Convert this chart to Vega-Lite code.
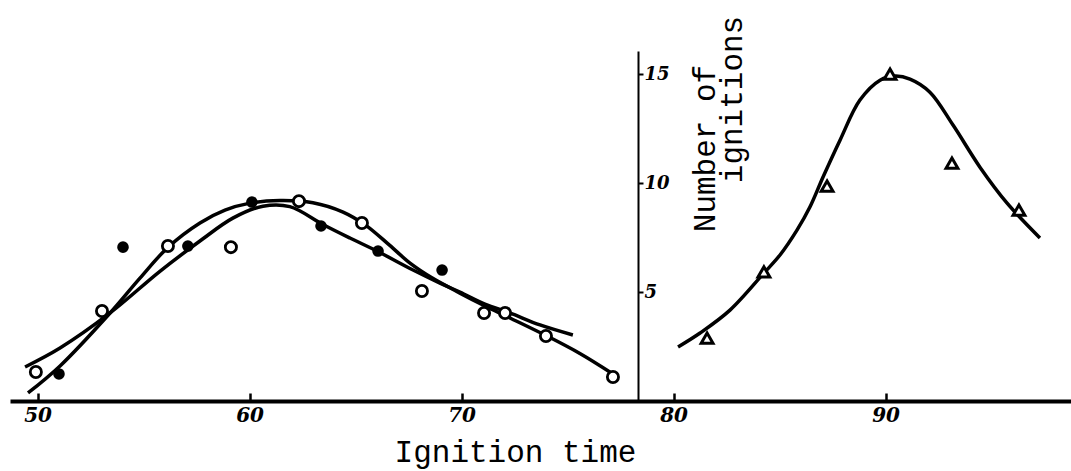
{
  "$schema": "https://vega.github.io/schema/vega-lite/v6.json",
  "width": 1061,
  "height": 350,
  "autosize": {"type": "none"},
  "padding": {"left": 10, "top": 51, "right": 0, "bottom": 70},
  "background": "white",
  "config": {"view": {"stroke": null}},
  "datasets": {
    "pts": [
      {"series": "open", "time": 49.92, "count": 1.33},
      {"series": "open", "time": 53.04, "count": 4.13},
      {"series": "open", "time": 56.15, "count": 7.11},
      {"series": "open", "time": 59.12, "count": 7.06},
      {"series": "open", "time": 62.33, "count": 9.17},
      {"series": "open", "time": 65.30, "count": 8.17},
      {"series": "open", "time": 68.13, "count": 5.05},
      {"series": "open", "time": 71.06, "count": 4.04},
      {"series": "open", "time": 72.05, "count": 4.04},
      {"series": "open", "time": 73.98, "count": 2.98},
      {"series": "open", "time": 77.14, "count": 1.1},
      {"series": "filled", "time": 51.01, "count": 1.24},
      {"series": "filled", "time": 54.03, "count": 7.06},
      {"series": "filled", "time": 57.09, "count": 7.11},
      {"series": "filled", "time": 60.11, "count": 9.13},
      {"series": "filled", "time": 63.37, "count": 8.03},
      {"series": "filled", "time": 66.06, "count": 6.88},
      {"series": "filled", "time": 69.08, "count": 6.01},
      {"series": "triangle", "time": 81.58, "count": 2.89},
      {"series": "triangle", "time": 84.26, "count": 5.92},
      {"series": "triangle", "time": 87.24, "count": 9.86},
      {"series": "triangle", "time": 90.21, "count": 15.0},
      {"series": "triangle", "time": 93.13, "count": 10.92},
      {"series": "triangle", "time": 96.29, "count": 8.76}
    ],
    "curves": [
      {"curve": "open", "time": 49.55, "count": 0.37},
      {"curve": "open", "time": 51.06, "count": 1.61},
      {"curve": "open", "time": 53.42, "count": 4.04},
      {"curve": "open", "time": 54.83, "count": 5.64},
      {"curve": "open", "time": 56.15, "count": 7.05},
      {"curve": "open", "time": 57.66, "count": 8.17},
      {"curve": "open", "time": 58.84, "count": 8.76},
      {"curve": "open", "time": 60.02, "count": 9.08},
      {"curve": "open", "time": 61.43, "count": 9.20},
      {"curve": "open", "time": 62.99, "count": 9.10},
      {"curve": "open", "time": 64.41, "count": 8.67},
      {"curve": "open", "time": 65.50, "count": 8.05},
      {"curve": "open", "time": 66.60, "count": 7.15},
      {"curve": "open", "time": 67.60, "count": 6.30},
      {"curve": "open", "time": 68.60, "count": 5.65},
      {"curve": "open", "time": 69.92, "count": 4.95},
      {"curve": "open", "time": 71.10, "count": 4.36},
      {"curve": "open", "time": 72.28, "count": 3.81},
      {"curve": "open", "time": 74.03, "count": 2.98},
      {"curve": "open", "time": 75.58, "count": 2.18},
      {"curve": "open", "time": 77.14, "count": 1.24},
      {"curve": "filled", "time": 49.41, "count": 1.56},
      {"curve": "filled", "time": 51.06, "count": 2.43},
      {"curve": "filled", "time": 53.42, "count": 4.04},
      {"curve": "filled", "time": 55.77, "count": 5.95},
      {"curve": "filled", "time": 57.66, "count": 7.34},
      {"curve": "filled", "time": 59.21, "count": 8.39},
      {"curve": "filled", "time": 60.63, "count": 8.94},
      {"curve": "filled", "time": 61.90, "count": 8.92},
      {"curve": "filled", "time": 63.46, "count": 8.10},
      {"curve": "filled", "time": 64.73, "count": 7.48},
      {"curve": "filled", "time": 66.01, "count": 6.88},
      {"curve": "filled", "time": 67.71, "count": 6.01},
      {"curve": "filled", "time": 68.98, "count": 5.41},
      {"curve": "filled", "time": 69.92, "count": 5.00},
      {"curve": "filled", "time": 71.10, "count": 4.45},
      {"curve": "filled", "time": 72.28, "count": 4.04},
      {"curve": "filled", "time": 73.70, "count": 3.49},
      {"curve": "filled", "time": 75.25, "count": 3.03},
      {"curve": "triangle", "time": 80.21, "count": 2.48},
      {"curve": "triangle", "time": 81.25, "count": 3.12},
      {"curve": "triangle", "time": 82.66, "count": 4.17},
      {"curve": "triangle", "time": 84.26, "count": 5.87},
      {"curve": "triangle", "time": 85.02, "count": 6.70},
      {"curve": "triangle", "time": 85.82, "count": 7.84},
      {"curve": "triangle", "time": 86.43, "count": 8.90},
      {"curve": "triangle", "time": 87.05, "count": 10.28},
      {"curve": "triangle", "time": 87.85, "count": 11.97},
      {"curve": "triangle", "time": 88.79, "count": 13.81},
      {"curve": "triangle", "time": 89.74, "count": 14.72},
      {"curve": "triangle", "time": 90.44, "count": 14.91},
      {"curve": "triangle", "time": 91.15, "count": 14.77},
      {"curve": "triangle", "time": 92.09, "count": 14.17},
      {"curve": "triangle", "time": 93.18, "count": 12.66},
      {"curve": "triangle", "time": 94.45, "count": 10.73},
      {"curve": "triangle", "time": 95.73, "count": 9.08},
      {"curve": "triangle", "time": 97.28, "count": 7.48}
    ]
  },
  "resolve": {"axis": {"y": "independent"}},
  "layer": [
    {
      "data": {"name": "curves"},
      "transform": [{"filter": "datum.curve !== 'triangle'"}],
      "mark": {"type": "line", "color": "black", "strokeWidth": 3.5, "interpolate": "catmull-rom"},
      "encoding": {
        "x": {
          "field": "time", "type": "quantitative",
          "scale": {"domain": [48.70, 98.745], "nice": false, "zero": false},
          "axis": {
            "title": "Ignition time",
            "titleFont": "Liberation Mono", "titleFontSize": 31, "titleFontWeight": "normal",
            "titleColor": "black", "titleX": 505, "titleY": 60, "titleAlign": "center",
            "titleBaseline": "alphabetic",
            "values": [50, 60, 70, 80, 90],
            "grid": false,
            "domainColor": "black", "domainWidth": 4,
            "tickColor": "black", "tickWidth": 2.5, "tickSize": -8,
            "labelFont": "DejaVu Serif", "labelFontStyle": "italic", "labelFontWeight": "bold",
            "labelFontSize": 20, "labelColor": "black", "labelPadding": 12, "labelBaseline": "top"
          }
        },
        "y": {
          "field": "count", "type": "quantitative",
          "scale": {"domain": [0, 16.06], "nice": false, "zero": false},
          "axis": {
            "orient": "right", "offset": -433,
            "title": "Number of",
            "titleFont": "Liberation Mono", "titleFontSize": 31, "titleFontWeight": "normal",
            "titleColor": "black", "titleAngle": -90, "titleX": 67, "titleY": 97,
            "titleAlign": "center", "titleBaseline": "middle",
            "values": [5, 10, 15],
            "grid": false,
            "domainColor": "black", "domainWidth": 2,
            "tickColor": "black", "tickWidth": 2, "tickSize": 5,
            "labelFont": "DejaVu Serif", "labelFontStyle": "italic", "labelFontWeight": "bold",
            "labelFontSize": 18, "labelColor": "black", "labelPadding": 1
          }
        },
        "detail": {"field": "curve"}
      }
    },
    {
      "data": {"name": "curves"},
      "transform": [{"filter": "datum.curve === 'triangle'"}],
      "mark": {"type": "line", "color": "black", "strokeWidth": 3.5, "interpolate": "catmull-rom"},
      "encoding": {
        "x": {"field": "time", "type": "quantitative"},
        "y": {
          "field": "count", "type": "quantitative",
          "axis": {
            "orient": "right", "offset": -433,
            "title": "ignitions",
            "titleFont": "Liberation Mono", "titleFontSize": 31, "titleFontWeight": "normal",
            "titleColor": "black", "titleAngle": -90, "titleX": 94, "titleY": 48,
            "titleAlign": "center", "titleBaseline": "middle",
            "labels": false, "ticks": false, "domain": false, "grid": false
          }
        }
      }
    },
    {
      "data": {"name": "pts"},
      "transform": [{"filter": "datum.series === 'open'"}],
      "mark": {"type": "point", "shape": "circle", "filled": true, "fill": "white", "stroke": "black", "strokeWidth": 2.8, "size": 125, "opacity": 1},
      "encoding": {
        "x": {"field": "time", "type": "quantitative"},
        "y": {"field": "count", "type": "quantitative", "axis": null}
      }
    },
    {
      "data": {"name": "pts"},
      "transform": [{"filter": "datum.series === 'filled'"}],
      "mark": {"type": "point", "shape": "circle", "filled": true, "color": "black", "size": 135, "opacity": 1},
      "encoding": {
        "x": {"field": "time", "type": "quantitative"},
        "y": {"field": "count", "type": "quantitative", "axis": null}
      }
    },
    {
      "data": {"name": "pts"},
      "transform": [{"filter": "datum.series === 'triangle'"}],
      "mark": {"type": "point", "shape": "triangle-up", "filled": true, "fill": "white", "stroke": "black", "strokeWidth": 3, "size": 140, "opacity": 1},
      "encoding": {
        "x": {"field": "time", "type": "quantitative"},
        "y": {"field": "count", "type": "quantitative", "axis": null}
      }
    }
  ]
}
